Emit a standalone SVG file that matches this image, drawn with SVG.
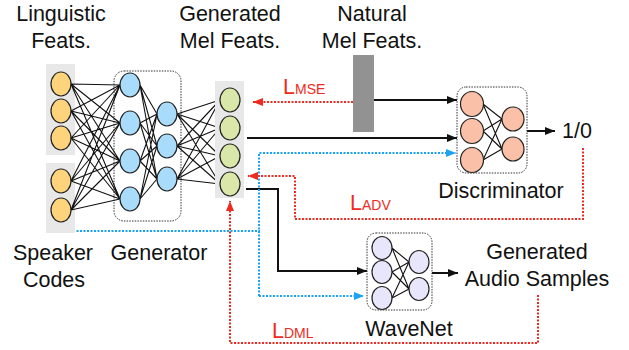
<svg xmlns="http://www.w3.org/2000/svg" width="629" height="350" viewBox="0 0 629 350">
<style>
text{font-family:"Liberation Sans",Arial,sans-serif;fill:#111;}
.t{font-size:21.5px;text-anchor:middle;}
.l{font-size:21.5px;fill:#ee2b20;}
.s{font-size:14px;}
.bg{fill:#e8e8e8;}
.y{fill:#fdd47c;stroke:#222;stroke-width:1.2;}
.b{fill:#a9dcfb;stroke:#222;stroke-width:1.2;}
.g{fill:#d9e8a8;stroke:#222;stroke-width:1.2;}
.r{fill:#fbc0a8;stroke:#222;stroke-width:1.2;}
.p{fill:#e7e6fb;stroke:#222;stroke-width:1.2;}
.w{stroke:#111;stroke-width:1.1;fill:none;}
.box{fill:none;stroke:#333;stroke-width:1;stroke-dasharray:1.5 1.2;}
.blk{fill:none;stroke:#111;stroke-width:2;}
.red{fill:none;stroke:#ee2b20;stroke-width:2;stroke-dasharray:2 1.5;}
.blu{fill:none;stroke:#1ba2f0;stroke-width:2;stroke-dasharray:2 1.5;}
</style>
<defs>
<marker id="ak" markerWidth="10" markerHeight="8" refX="10" refY="4" orient="auto" markerUnits="userSpaceOnUse"><path d="M0,0L10,4L0,8z" fill="#111"/></marker>
<marker id="ar" markerWidth="10" markerHeight="8" refX="10" refY="4" orient="auto" markerUnits="userSpaceOnUse"><path d="M0,0L10,4L0,8z" fill="#ee2b20"/></marker>
<marker id="ab" markerWidth="10" markerHeight="8" refX="10" refY="4" orient="auto" markerUnits="userSpaceOnUse"><path d="M0,0L10,4L0,8z" fill="#1ba2f0"/></marker>
</defs>

<g id="labels">
<text class="t" x="61" y="21">Linguistic</text>
<text class="t" x="61" y="48">Feats.</text>
<text class="t" x="230" y="21">Generated</text>
<text class="t" x="230" y="48">Mel Feats.</text>
<text class="t" x="372" y="21">Natural</text>
<text class="t" x="372" y="48">Mel Feats.</text>
<text class="t" x="53" y="260">Speaker</text>
<text class="t" x="54" y="287">Codes</text>
<text class="t" x="159" y="260">Generator</text>
<text class="t" x="577" y="138">1/0</text>
<text class="t" x="501" y="198">Discriminator</text>
<text class="t" x="537" y="259">Generated</text>
<text class="t" x="537" y="286">Audio Samples</text>
<text class="t" x="409" y="336">WaveNet</text>
<text class="l" x="283" y="94">L<tspan class="s">MSE</tspan></text>
<text class="l" x="350" y="210">L<tspan class="s">ADV</tspan></text>
<text class="l" x="272" y="338">L<tspan class="s">DML</tspan></text>
</g>

<g id="connectors">
<path class="blk" d="M374,100H457" marker-end="url(#ak)"/>
<path class="blk" d="M247,138H457" marker-end="url(#ak)"/>
<path class="blk" d="M527,131H555" marker-end="url(#ak)"/>
<path class="blk" d="M246,189H278V271H367" marker-end="url(#ak)"/>
<path class="blk" d="M432,273H458" marker-end="url(#ak)"/>
<path class="blu" d="M73,231H260"/>
<path class="blu" d="M259,296V153H456" marker-end="url(#ab)"/>
<path class="blu" d="M259,296H364" marker-end="url(#ab)"/>
<path class="red" d="M353,102H253" marker-end="url(#ar)"/>
<path class="red" d="M583,148V219H295V176H248" marker-end="url(#ar)"/>
<path class="red" d="M538,295V343H230V201" marker-end="url(#ar)"/>
</g>

<g id="linguistic-feats">
<rect class="bg" x="46" y="64" width="29" height="91"/>
<ellipse class="y" cx="61" cy="84" rx="10" ry="12"/>
<ellipse class="y" cx="61" cy="111" rx="10" ry="12"/>
<ellipse class="y" cx="61" cy="138" rx="10" ry="12"/>
</g>
<g id="speaker-codes">
<rect class="bg" x="46" y="163" width="29" height="70"/>
<ellipse class="y" cx="61" cy="181" rx="10" ry="12"/>
<ellipse class="y" cx="61" cy="210" rx="10" ry="12"/>
</g>

<g id="generator">
<rect class="box" x="114" y="71" width="67" height="150" rx="10"/>
<path class="w" d="M71,84L120,85M71,84L120,123M71,84L120,161M71,84L120,199
M71,111L120,85M71,111L120,123M71,111L120,161M71,111L120,199
M71,138L120,85M71,138L120,123M71,138L120,161M71,138L120,199
M71,181L120,85M71,181L120,123M71,181L120,161M71,181L120,199
M71,210L120,85M71,210L120,123M71,210L120,161M71,210L120,199
M140,85L157,114M140,85L157,146M140,85L157,179
M140,123L157,114M140,123L157,146M140,123L157,179
M140,161L157,114M140,161L157,146M140,161L157,179
M140,199L157,114M140,199L157,146M140,199L157,179
M177,114L220,100M177,114L220,128M177,114L220,156M177,114L220,184
M177,146L220,100M177,146L220,128M177,146L220,156M177,146L220,184
M177,179L220,100M177,179L220,128M177,179L220,156M177,179L220,184"/>
<ellipse class="b" cx="130" cy="85" rx="10" ry="12"/>
<ellipse class="b" cx="130" cy="123" rx="10" ry="12"/>
<ellipse class="b" cx="130" cy="161" rx="10" ry="12"/>
<ellipse class="b" cx="130" cy="199" rx="10" ry="12"/>
<ellipse class="b" cx="167" cy="114" rx="10" ry="12"/>
<ellipse class="b" cx="167" cy="146" rx="10" ry="12"/>
<ellipse class="b" cx="167" cy="179" rx="10" ry="12"/>
</g>

<g id="generated-mel">
<rect class="bg" x="215" y="81" width="29" height="117"/>
<ellipse class="g" cx="230" cy="100" rx="10" ry="12"/>
<ellipse class="g" cx="230" cy="128" rx="10" ry="12"/>
<ellipse class="g" cx="230" cy="156" rx="10" ry="12"/>
<ellipse class="g" cx="230" cy="184" rx="10" ry="12"/>
</g>

<g id="natural-mel">
<rect x="353" y="55" width="21" height="77" fill="#929292"/>
</g>

<g id="discriminator">
<rect class="box" x="457" y="87" width="70" height="86" rx="9"/>
<path class="w" d="M483,104L502,119M483,104L502,149M483,131L502,119M483,131L502,149M483,160L502,119M483,160L502,149"/>
<ellipse class="r" cx="472" cy="104" rx="11.5" ry="12.5"/>
<ellipse class="r" cx="472" cy="131" rx="11.5" ry="12.5"/>
<ellipse class="r" cx="472" cy="160" rx="11.5" ry="12.5"/>
<ellipse class="r" cx="513" cy="119" rx="11" ry="12"/>
<ellipse class="r" cx="513" cy="149" rx="11" ry="12"/>
</g>

<g id="wavenet">
<rect class="box" x="367" y="233" width="65" height="77" rx="9"/>
<path class="w" d="M392,248L409,262M392,248L409,289M392,272L409,262M392,272L409,289M392,298L409,262M392,298L409,289"/>
<ellipse class="p" cx="382" cy="248" rx="10" ry="11.5"/>
<ellipse class="p" cx="382" cy="272" rx="10" ry="11.5"/>
<ellipse class="p" cx="382" cy="298" rx="10" ry="11.5"/>
<ellipse class="p" cx="419" cy="262" rx="10" ry="11.5"/>
<ellipse class="p" cx="419" cy="289" rx="10" ry="11.5"/>
</g>
</svg>
